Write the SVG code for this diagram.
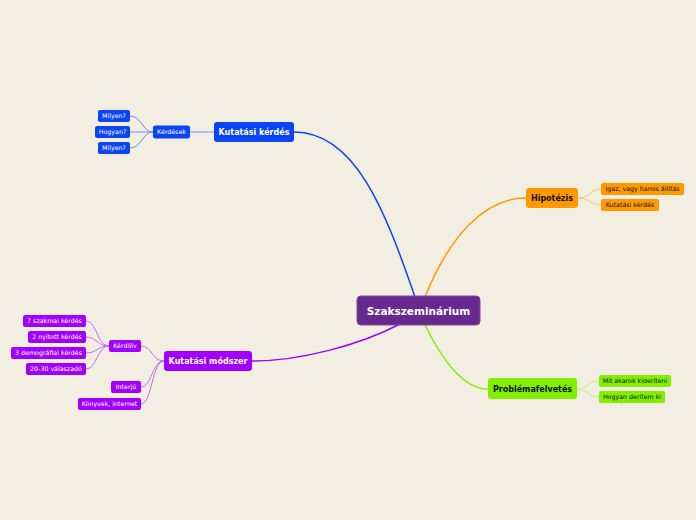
<svg xmlns="http://www.w3.org/2000/svg" width="696" height="520" viewBox="0 0 696 520">
<style>
text{font-family:"DejaVu Sans","Liberation Sans",sans-serif;}
.main{font-size:8px;font-weight:bold;text-anchor:middle;}
.big{font-size:10.5px;font-weight:bold;text-anchor:middle;}
.sub{font-size:6.3px;text-anchor:middle;}
.w{fill:#fff;}
.k{fill:#111;}
.c{fill:none;stroke-width:1.5;}
.s{fill:none;stroke-width:1;}
</style>
<rect width="696" height="520" fill="#F2EFE2"/>
<g id="connectors">
<path class="c" stroke="#0A45F5" d="M294 132 C355 132 385 210 415 297"/>
<path class="c" stroke="#FF9900" d="M425 297 C450 235 485 198 526 198"/>
<path class="c" stroke="#80F000" d="M425 325 C445 365 465 389 488 389"/>
<path class="c" stroke="#A100FF" d="M400 324 C360 345 300 361 252 361"/>
<g stroke="#6F8CF8">
<path class="s" d="M214 132 L190 132"/>
<path class="s" d="M153 132 C142 132 142 116 130 116"/>
<path class="s" d="M153 132 L130 132"/>
<path class="s" d="M153 132 C142 132 142 148 130 148"/>
</g>
<g stroke="#FFC770">
<path class="s" d="M578 198 C590 198 590 189 601 189"/>
<path class="s" d="M578 198 C590 198 590 205 601 205"/>
</g>
<g stroke="#B8F57A">
<path class="s" d="M577 389 C588 389 588 381 599 381"/>
<path class="s" d="M577 389 C588 389 588 397 599 397"/>
</g>
<g stroke="#C36BFF">
<path class="s" d="M164 361 C152 361 152 346 141 346"/>
<path class="s" d="M164 361 C152 361 152 387 141 387"/>
<path class="s" d="M164 361 C152 361 152 404 141 404"/>
<path class="s" d="M109 346 C97 346 97 321 86 321"/>
<path class="s" d="M109 346 C97 346 97 337 86 337"/>
<path class="s" d="M109 346 C97 346 97 353 86 353"/>
<path class="s" d="M109 346 C97 346 97 369 86 369"/>
</g>
</g>
<g id="center"><rect x="357" y="296" width="123" height="29" rx="4" fill="#68298F" stroke="#7E46A3"/><text class="big w" x="418.5" y="314.5">Szakszeminárium</text></g>
<g id="kutatasi-kerdes"><rect x="214" y="122" width="80" height="20" rx="3" fill="#0A45F5"/><text class="main w" x="254" y="135">Kutatási kérdés</text></g>
<g id="kerdesek"><rect x="153" y="125.5" width="37" height="13" rx="2" fill="#0A45F5"/><text class="sub w" x="171.5" y="134.2">Kérdések</text></g>
<g id="milyen1"><rect x="98" y="110" width="32" height="12" rx="2" fill="#0A45F5"/><text class="sub w" x="114" y="118.3">Milyen?</text></g>
<g id="hogyan"><rect x="95" y="126" width="35" height="12" rx="2" fill="#0A45F5"/><text class="sub w" x="112.5" y="134.3">Hogyan?</text></g>
<g id="milyen2"><rect x="98" y="142" width="32" height="12" rx="2" fill="#0A45F5"/><text class="sub w" x="114" y="150.3">Milyen?</text></g>
<g id="hipotezis"><rect x="526" y="188" width="52" height="20" rx="3" fill="#FF9900"/><text class="main k" x="552" y="201">Hipotézis</text></g>
<g id="igaz"><rect x="601" y="183" width="83" height="12" rx="2" fill="#FF9900"/><text class="sub k" x="642.5" y="191.3">Igaz, vagy hamis állítás</text></g>
<g id="kutkerdes2"><rect x="601" y="199" width="58" height="12" rx="2" fill="#FF9900"/><text class="sub k" x="630" y="207.3">Kutatási kérdés</text></g>
<g id="problemafelvetes"><rect x="488" y="378" width="89" height="21" rx="3" fill="#80F000"/><text class="main k" x="532.5" y="391.5">Problémafelvetés</text></g>
<g id="mit"><rect x="599" y="375" width="72" height="12" rx="2" fill="#80F000"/><text class="sub k" x="635" y="383.3">Mit akarok kideríteni</text></g>
<g id="hogyan-derit"><rect x="599" y="391" width="66" height="12" rx="2" fill="#80F000"/><text class="sub k" x="632" y="399.3">Hogyan derítem ki</text></g>
<g id="kutatasi-modszer"><rect x="164" y="351" width="88" height="20" rx="3" fill="#A100FF"/><text class="main w" x="208" y="364">Kutatási módszer</text></g>
<g id="kerdoiv"><rect x="109" y="340" width="32" height="12" rx="2" fill="#A100FF"/><text class="sub w" x="125" y="348.3">Kérdőív</text></g>
<g id="szakmai"><rect x="23" y="315" width="63" height="12" rx="2" fill="#A100FF"/><text class="sub w" x="54.5" y="323.3">7 szakmai kérdés</text></g>
<g id="nyitott"><rect x="28" y="331" width="58" height="12" rx="2" fill="#A100FF"/><text class="sub w" x="57" y="339.3">2 nyitott kérdés</text></g>
<g id="demografiai"><rect x="11" y="347" width="75" height="12" rx="2" fill="#A100FF"/><text class="sub w" x="48.5" y="355.3">3 demográfiai kérdés</text></g>
<g id="valaszado"><rect x="26" y="363" width="60" height="12" rx="2" fill="#A100FF"/><text class="sub w" x="56" y="371.3">20-30 válaszadó</text></g>
<g id="interju"><rect x="111" y="381" width="30" height="12" rx="2" fill="#A100FF"/><text class="sub w" x="126" y="389.3">Interjú</text></g>
<g id="konyvek"><rect x="78" y="398" width="63" height="12" rx="2" fill="#A100FF"/><text class="sub w" x="109.5" y="406.3">Könyvek, internet</text></g>
</svg>
